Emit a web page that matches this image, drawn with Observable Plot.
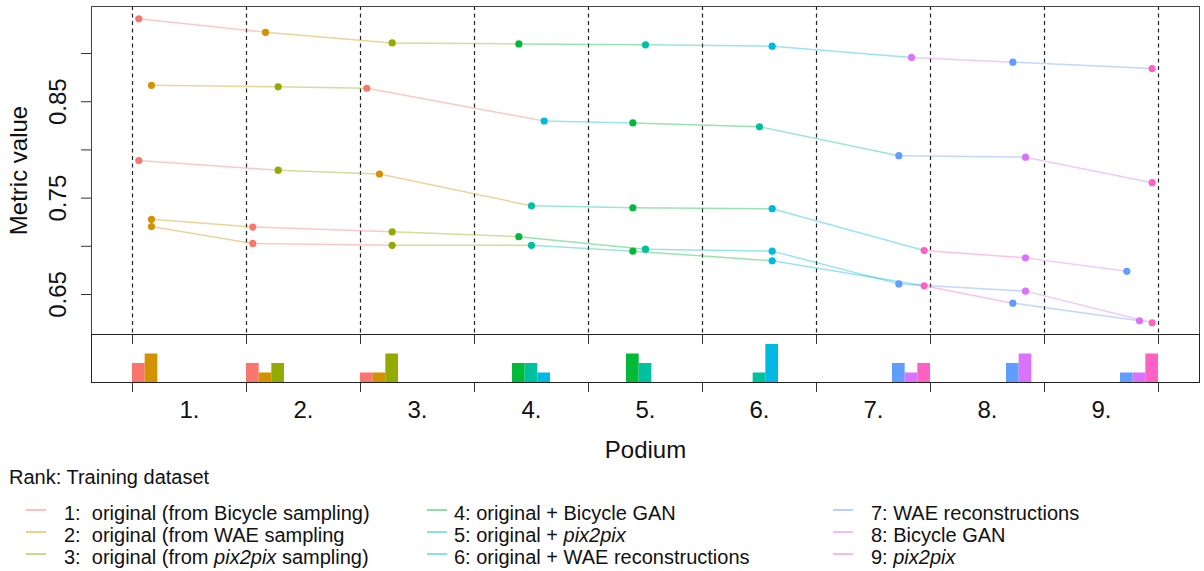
<!DOCTYPE html>
<html>
<head>
<meta charset="utf-8">
<script src="https://cdn.jsdelivr.net/npm/d3@7"></script>
<script src="https://cdn.jsdelivr.net/npm/@observablehq/plot@0.6"></script>
<style>
  html, body { margin: 0; padding: 0; background: #fff; }
  #wrap { position: relative; width: 1204px; height: 571px; font-family: "Liberation Sans", Arial, sans-serif; color: #000; }
  #main, #bars { position: absolute; left: 0; }
  #main { top: 0; }
  #bars { top: 332px; }
  .lg { position: absolute; font-size: 20px; line-height: 22px; white-space: pre; color: #111; }
  .lgline { position: absolute; width: 20px; height: 2px; }
</style>
</head>
<body>
<div id="wrap">
  <div id="main"></div>
  <div id="bars"></div>
  <div id="legend"></div>
</div>
<script>
// ---------- data ----------
const podiumLabels = ["1.", "2.", "3.", "4.", "5.", "6.", "7.", "8.", "9."];
const legendTitle = "Rank: Training dataset";
const algorithmLabels = [
  "1:  original (from Bicycle sampling)",
  "2:  original (from WAE sampling",
  "3:  original (from *pix2pix* sampling)",
  "4: original + Bicycle GAN",
  "5: original + *pix2pix*",
  "6: original + WAE reconstructions",
  "7: WAE reconstructions",
  "8: Bicycle GAN",
  "9: *pix2pix*"
];
const palette = ["#F8766D", "#D39200", "#93AA00", "#00BA38", "#00C19F", "#00B9E3", "#619CFF", "#DB72FB", "#FF61C3"];

// algorithm (rank id) occupying each podium place, and its metric value, per dataset
const rankA = [1, 2, 3, 4, 5, 6, 8, 7, 9];
const valueA = [0.936, 0.922, 0.911, 0.910, 0.909, 0.9076, 0.896, 0.891, 0.8845];
const rankB = [2, 3, 1, 6, 4, 5, 7, 8, 9];
const valueB = [0.867, 0.8655, 0.864, 0.830, 0.828, 0.824, 0.794, 0.7925, 0.766];
const rankC = [1, 3, 2, 5, 4, 6, 9, 8, 7];
const valueC = [0.789, 0.779, 0.775, 0.742, 0.740, 0.739, 0.6956, 0.688, 0.674];
const rankD = [2, 1, 3, 4, 5, 6, 7, 8, 9];
const valueD = [0.728, 0.720, 0.715, 0.710, 0.697, 0.695, 0.661, 0.6535, 0.6206];
const rankE = [2, 1, 3, 5, 4, 6, 9, 7, 8];
const valueE = [0.7205, 0.703, 0.701, 0.701, 0.695, 0.685, 0.659, 0.641, 0.6227];

const yTicks = [0.65, 0.70, 0.75, 0.80, 0.85, 0.90];
const yTickLabels = ["0.65", "", "0.75", "", "0.85", ""];
const podiumBounds = [0, 1, 2, 3, 4, 5, 6, 7, 8, 9];

// ---------- derived tables ----------
const K = 9;
const datasets = [[rankA, valueA], [rankB, valueB], [rankC, valueC], [rankD, valueD], [rankE, valueE]];
const pos = (place, alg) => place + (alg - 0.5) / K;
const points = [];
const segments = [];
datasets.forEach(([ranks, vals], d) => {
  ranks.forEach((a, i) => {
    points.push({x: pos(i, a), y: vals[i], alg: a});
    if (i < ranks.length - 1) {
      segments.push({x1: pos(i, a), y1: vals[i], x2: pos(i + 1, ranks[i + 1]), y2: vals[i + 1], alg: a});
    }
  });
});
const counts = [];
for (let p = 0; p < K; p++) {
  for (let a = 1; a <= K; a++) {
    const n = datasets.filter(([r]) => r[p] === a).length;
    if (n > 0) counts.push({x1: p + (a - 1) / K, x2: p + a / K, n, alg: a});
  }
}
const col = d => palette[d.alg - 1];
const xDomain = [-0.3596, 9.3596];
const font = '"Liberation Sans", Arial, sans-serif';

// ---------- main panel ----------
const main = Plot.plot({
  width: 1204, height: 340,
  marginLeft: 91, marginRight: 5, marginTop: 6, marginBottom: 6,
  x: {domain: xDomain, axis: null},
  y: {domain: [0.6085, 0.9488], axis: null},
  style: {fontFamily: font, fontSize: "24px", color: "#000", background: "transparent", overflow: "visible"},
  marks: [
    Plot.ruleX(podiumBounds, {stroke: "#222", strokeWidth: 1.2, strokeDasharray: "4,3.5"}),
    Plot.link(segments, {x1: "x1", y1: "y1", x2: "x2", y2: "y2", stroke: col, strokeOpacity: 0.4, strokeWidth: 1.5}),
    Plot.dot(points, {x: "x", y: "y", fill: col, r: 3.6}),
    Plot.axisY({ticks: yTicks, tickSize: 10, tickFormat: () => "", label: null, stroke: "#333"}),
    Plot.text(yTicks, {y: d => d, text: (d, i) => yTickLabels[i], frameAnchor: "left", textAnchor: "middle", lineAnchor: "middle", dx: -33, rotate: -90, fontSize: 24, fill: "#111"}),
    Plot.text(["Metric value"], {frameAnchor: "left", textAnchor: "middle", lineAnchor: "middle", dx: -72, rotate: -90, fontSize: 24, fill: "#111"}),
    Plot.frame({stroke: "#444"})
  ]
});
document.getElementById("main").append(main);

// ---------- bar panel ----------
const bars = Plot.plot({
  width: 1204, height: 140,
  marginLeft: 91, marginRight: 5, marginTop: 2, marginBottom: 90,
  x: {domain: xDomain, axis: null},
  y: {domain: [0, 5.05], axis: null},
  style: {fontFamily: font, fontSize: "24px", color: "#000", background: "transparent", overflow: "visible"},
  marks: [
    Plot.rectY(counts, {x1: "x1", x2: "x2", y1: 0, y2: "n", fill: col}),
    Plot.ruleX(podiumBounds, {insetBottom: 38, stroke: "#333"}),
    Plot.axisX({ticks: podiumBounds, tickSize: 10, tickFormat: () => "", label: null, stroke: "#333"}),
    Plot.text(podiumLabels, {x: (d, i) => i + 0.5, text: d => d, frameAnchor: "bottom", lineAnchor: "middle", dy: 28, fontSize: 24, fill: "#111"}),
    Plot.text(["Podium"], {frameAnchor: "bottom", lineAnchor: "middle", dy: 68, fontSize: 24, fill: "#111"}),
    Plot.frame({stroke: "#222"})
  ]
});
document.getElementById("bars").append(bars);

// ---------- legend ----------
const legend = document.getElementById("legend");
const title = document.createElement("div");
title.className = "lg";
title.style.left = "9px";
title.style.top = "466px";
title.textContent = legendTitle;
legend.append(title);
const colX = [[26, 64], [427, 454], [833, 871]];
const rowTop = [501.5, 523.5, 545.5];
algorithmLabels.forEach((lab, i) => {
  const c = Math.floor(i / 3), r = i % 3;
  const line = document.createElement("div");
  line.className = "lgline";
  line.style.left = colX[c][0] + "px";
  line.style.top = (rowTop[r] + 7) + "px";
  line.style.background = palette[i];
  line.style.opacity = 0.45;
  legend.append(line);
  const t = document.createElement("div");
  t.className = "lg";
  t.style.left = colX[c][1] + "px";
  t.style.top = rowTop[r] + "px";
  lab.split("*").forEach((part, j) => {
    if (j % 2 === 1) { const e = document.createElement("i"); e.textContent = part; t.append(e); }
    else t.append(document.createTextNode(part));
  });
  legend.append(t);
});
</script>
</body>
</html>
